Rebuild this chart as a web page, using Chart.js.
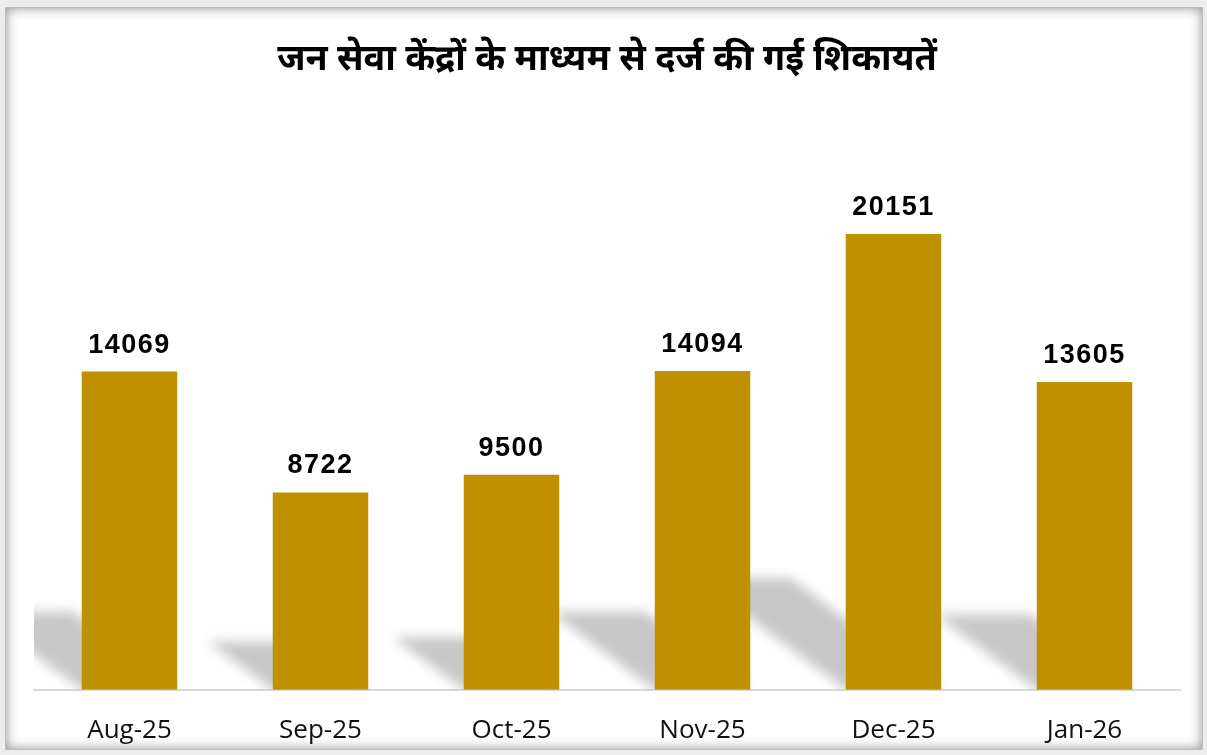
<!DOCTYPE html>
<html>
<head>
<meta charset="utf-8">
<script src="https://cdn.jsdelivr.net/npm/chart.js@4"></script>
<style>
  body { margin: 0; background: #ececec; }
  #frame {
    position: absolute; left: 5px; top: 7px; width: 1196px; height: 741px;
    background: #fff; border: 1px solid #bdbdbd;
    box-shadow: inset 0 0 12px rgba(0,0,0,0.45);
  }
  #complaintsChart { position: absolute; left: 0; top: 0; }
</style>
</head>
<body>
<div id="frame"></div>
<canvas id="complaintsChart" width="1207" height="755"></canvas>
<script>
// data
const months = ['Aug-25', 'Sep-25', 'Oct-25', 'Nov-25', 'Dec-25', 'Jan-26'];
const complaints = [14069, 8722, 9500, 14094, 20151, 13605];
const chartTitle = 'जन सेवा केंद्रों के माध्यम से दर्ज की गई शिकायतें';

// soft slanted shadow behind each bar
const barShadows = {
    id: 'barShadows',
    beforeDatasetsDraw(chart) {
        const ctx = chart.ctx;
        const area = chart.chartArea;
        ctx.save();
        ctx.beginPath();
        ctx.rect(area.left, area.top, area.right - area.left, area.bottom - area.top);
        ctx.clip();
        ctx.filter = 'blur(6px)';
        ctx.fillStyle = 'rgba(0,0,0,0.22)';
        chart.getDatasetMeta(0).data.forEach(bar => {
            const h = bar.base - bar.y;
            const dx = h * 0.33, dy = h * 0.245;
            const l = bar.x - bar.width / 2, r = bar.x + bar.width / 2;
            ctx.beginPath();
            ctx.moveTo(l, bar.base);
            ctx.lineTo(r, bar.base);
            ctx.lineTo(r - dx, bar.base - dy);
            ctx.lineTo(l - dx, bar.base - dy);
            ctx.closePath();
            ctx.fill();
        });
        ctx.restore();
    }
};

// value labels above the bars
const valueLabels = {
    id: 'valueLabels',
    afterDatasetsDraw(chart) {
        const ctx = chart.ctx;
        const values = chart.data.datasets[0].data;
        ctx.save();
        ctx.font = 'bold 27px "Liberation Sans", Arial, sans-serif';
        ctx.letterSpacing = '1.5px';
        ctx.fillStyle = '#000';
        ctx.textAlign = 'center';
        ctx.textBaseline = 'alphabetic';
        chart.getDatasetMeta(0).data.forEach((bar, i) => {
            ctx.fillText(String(values[i]), bar.x, bar.y - 19);
        });
        ctx.restore();
    }
};

const ctx = document.getElementById('complaintsChart').getContext('2d');
const complaintsChart = new Chart(ctx, {
    type: 'bar',
    data: {
        labels: months,
        datasets: [{
            label: 'complaints',
            data: complaints,
            backgroundColor: '#BF9000',
            borderWidth: 0,
            categoryPercentage: 1,
            barPercentage: 0.5
        }]
    },
    options: {
        responsive: false,
        animation: false,
        events: [],
        layout: {
            padding: { left: 34, right: 27, top: 0, bottom: -16 }
        },
        scales: {
            x: {
                grid: { display: false, drawTicks: false },
                border: { display: true, color: '#d9d9d9', width: 2 },
                ticks: {
                    padding: 25,
                    color: '#111',
                    font: { family: '"Open Sans", "Liberation Sans", sans-serif', size: 26 }
                }
            },
            y: {
                display: false,
                min: 0,
                max: 25000
            }
        },
        plugins: {
            legend: { display: false },
            tooltip: { enabled: false },
            title: {
                display: true,
                text: chartTitle,
                color: '#000',
                align: 'center',
                padding: { top: 42, bottom: 39 },
                font: {
                    family: '"Noto Sans Devanagari", "Lohit Devanagari", "Noto Sans", sans-serif',
                    size: 36,
                    weight: 'bold'
                }
            }
        }
    },
    plugins: [barShadows, valueLabels]
});
</script>
</body>
</html>
